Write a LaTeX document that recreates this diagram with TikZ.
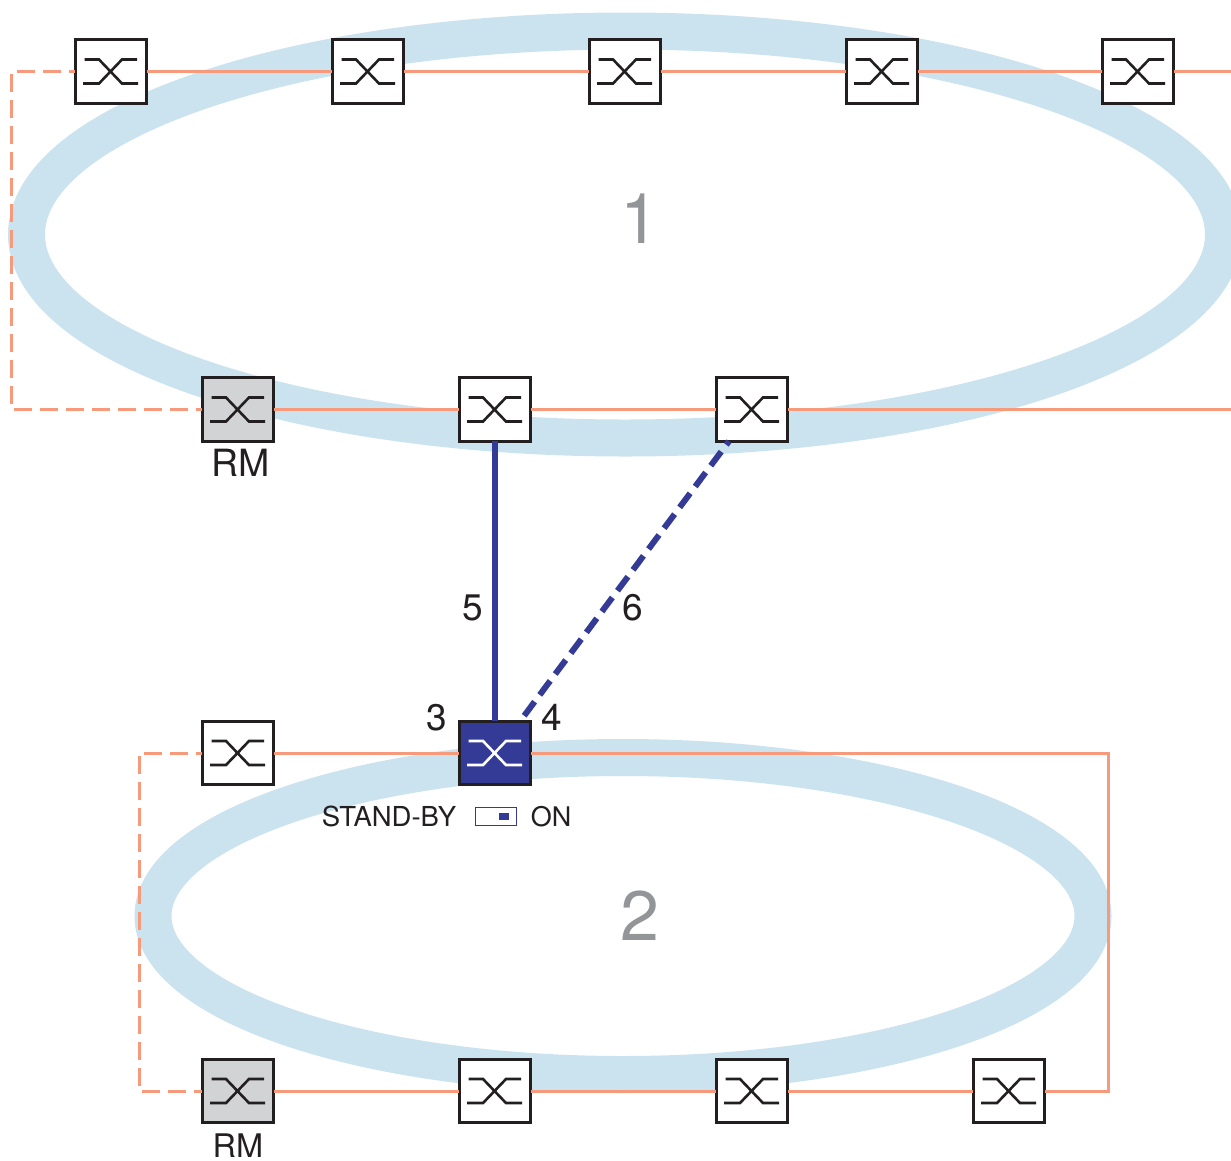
\documentclass[tikz,border=0pt]{standalone}
\usepackage{fontspec}
\setmainfont{TeX Gyre Heros}
\usetikzlibrary{calc}
\definecolor{ringblue}{HTML}{CBE2EF}
\definecolor{orangeline}{HTML}{F79A7B}
\definecolor{navy}{HTML}{343B96}
\definecolor{inkdark}{HTML}{231F20}
\definecolor{greynum}{HTML}{939598}
\definecolor{rmgrey}{HTML}{D1D3D4}
\tikzset{
  x=1pt,y=-1pt,
  ring/.style={draw=ringblue,line width=37pt},
  swbox/.style={draw=inkdark,line width=3pt,fill=white,minimum width=71.5pt,minimum height=63.4pt,inner sep=0pt,outer sep=0pt},
  rmbox/.style={swbox,fill=rmgrey},
  activebox/.style={swbox,fill=navy},
  link/.style={draw=orangeline,line width=3pt},
  spare/.style={link,dash pattern=on 18pt off 8pt,dash phase=12pt},
  coupling/.style={draw=navy,line width=6pt},
  couplingspare/.style={coupling,dash pattern=on 17.5pt off 8.5pt,dash phase=13pt},
  lab/.style={anchor=base,inner sep=0pt,outer sep=0pt,text=inkdark},
}
\newcommand{\swsym}[2]{%
  \draw[#2,line width=2.6pt] ([shift={(-26.5,-12)}]#1.center) -- ++(14.5,0) -- ++(23,24) -- ++(16,0);
  \draw[#2,line width=2.6pt] ([shift={(-28,12)}]#1.center) -- ++(16,0) -- ++(23,-24) -- ++(15,0);
}
\newcommand{\swnode}[4]{\node[#1] (#2) at (#3,#4) {}; \swsym{#2}{#1sym}}
\tikzset{swboxsym/.style={inkdark},rmboxsym/.style={inkdark},activeboxsym/.style={white}}
\begin{document}
\begin{tikzpicture}
\useasboundingbox (0,0) rectangle (1231,1160);
\clip (0,0) rectangle (1231,1160);
\draw[ring] (625,234.5) ellipse [x radius=598.5,y radius=203.5];
\draw[ring] (623,916) ellipse [x radius=470,y radius=158.5];
% nodes
\swnode{swbox}{a1}{111}{71.5}
\swnode{swbox}{a2}{368}{71.5}
\swnode{swbox}{a3}{625}{71.5}
\swnode{swbox}{a4}{882}{71.5}
\swnode{swbox}{a5}{1138}{71.5}
\swnode{rmbox}{b1}{238}{409.5}
\swnode{swbox}{b2}{495}{409.5}
\swnode{swbox}{b3}{752}{409.5}
\swnode{swbox}{c1}{238}{753}
\swnode{activebox}{c2}{495}{753}
\swnode{rmbox}{d1}{238}{1091}
\swnode{swbox}{d2}{495}{1091}
\swnode{swbox}{d3}{752}{1091}
\swnode{swbox}{d4}{1009}{1091}
\coordinate (aend) at (1231,71.5);
\coordinate (bend) at (1231,409.5);
\coordinate (ctl1) at (11.5,71.5);
\coordinate (ctl2) at (11.5,409.5);
\coordinate (ctl3) at (139,753);
\coordinate (ctl4) at (139,1091);
\coordinate (ctr1) at (1108,753);
\coordinate (ctr2) at (1108,1091);
% ring links
\draw[link] (a1) -- (a2);
\draw[link] (a2) -- (a3);
\draw[link] (a3) -- (a4);
\draw[link] (a4) -- (a5);
\draw[link] (a5) -- (aend);
\draw[link] (b1) -- (b2);
\draw[link] (b2) -- (b3);
\draw[link] (b3) -- (bend);
\draw[spare] (a1.west) -- (ctl1) -- (ctl2) -- (b1.west);
\draw[link] (c1) -- (c2);
\draw[link] (c2.east) -- (ctr1) -- (ctr2) -- (d4.east);
\draw[link] (d1) -- (d2);
\draw[link] (d2) -- (d3);
\draw[link] (d3) -- (d4);
\draw[spare] (c1.west) -- (ctl3) -- (ctl4) -- (d1.west);
% coupling
\draw[coupling] (b2.south) -- (c2.north);
\draw[couplingspare] ([xshift=-23pt]b3.south) -- ([xshift=25pt]c2.north);
% labels
\node[lab] (rm1) at (241,476.5) {\fontsize{37.5}{37.5}\selectfont RM};
\node[lab] (rm2) at (238,1157.5) {\fontsize{32.5}{32.5}\selectfont RM};
\node[lab,text=greynum] (n1) at (640,243.5) {\fontsize{70}{70}\selectfont 1};
\node[lab,text=greynum] (n2) at (640,940) {\fontsize{70}{70}\selectfont 2};
\node[lab] (n3) at (436.5,730.5) {\fontsize{37}{37}\selectfont 3};
\node[lab] (n4) at (551.5,730) {\fontsize{37}{37}\selectfont 4};
\node[lab] (n5) at (473,620.5) {\fontsize{37}{37}\selectfont 5};
\node[lab] (n6) at (633,620.5) {\fontsize{37}{37}\selectfont 6};
\node[lab] (sb) at (389,826) {\fontsize{27.5}{27.5}\selectfont STAND-BY};
\node[lab] (on) at (551,826) {\fontsize{27}{27}\selectfont ON};
\node[draw=navy,line width=1.5pt,fill=white,minimum width=41pt,minimum height=18pt,inner sep=0pt] (sw) at (496,816.5) {};
\node[fill=navy,minimum width=10pt,minimum height=7pt,inner sep=0pt] (knob) at (504,816.5) {};
\end{tikzpicture}
\end{document}
